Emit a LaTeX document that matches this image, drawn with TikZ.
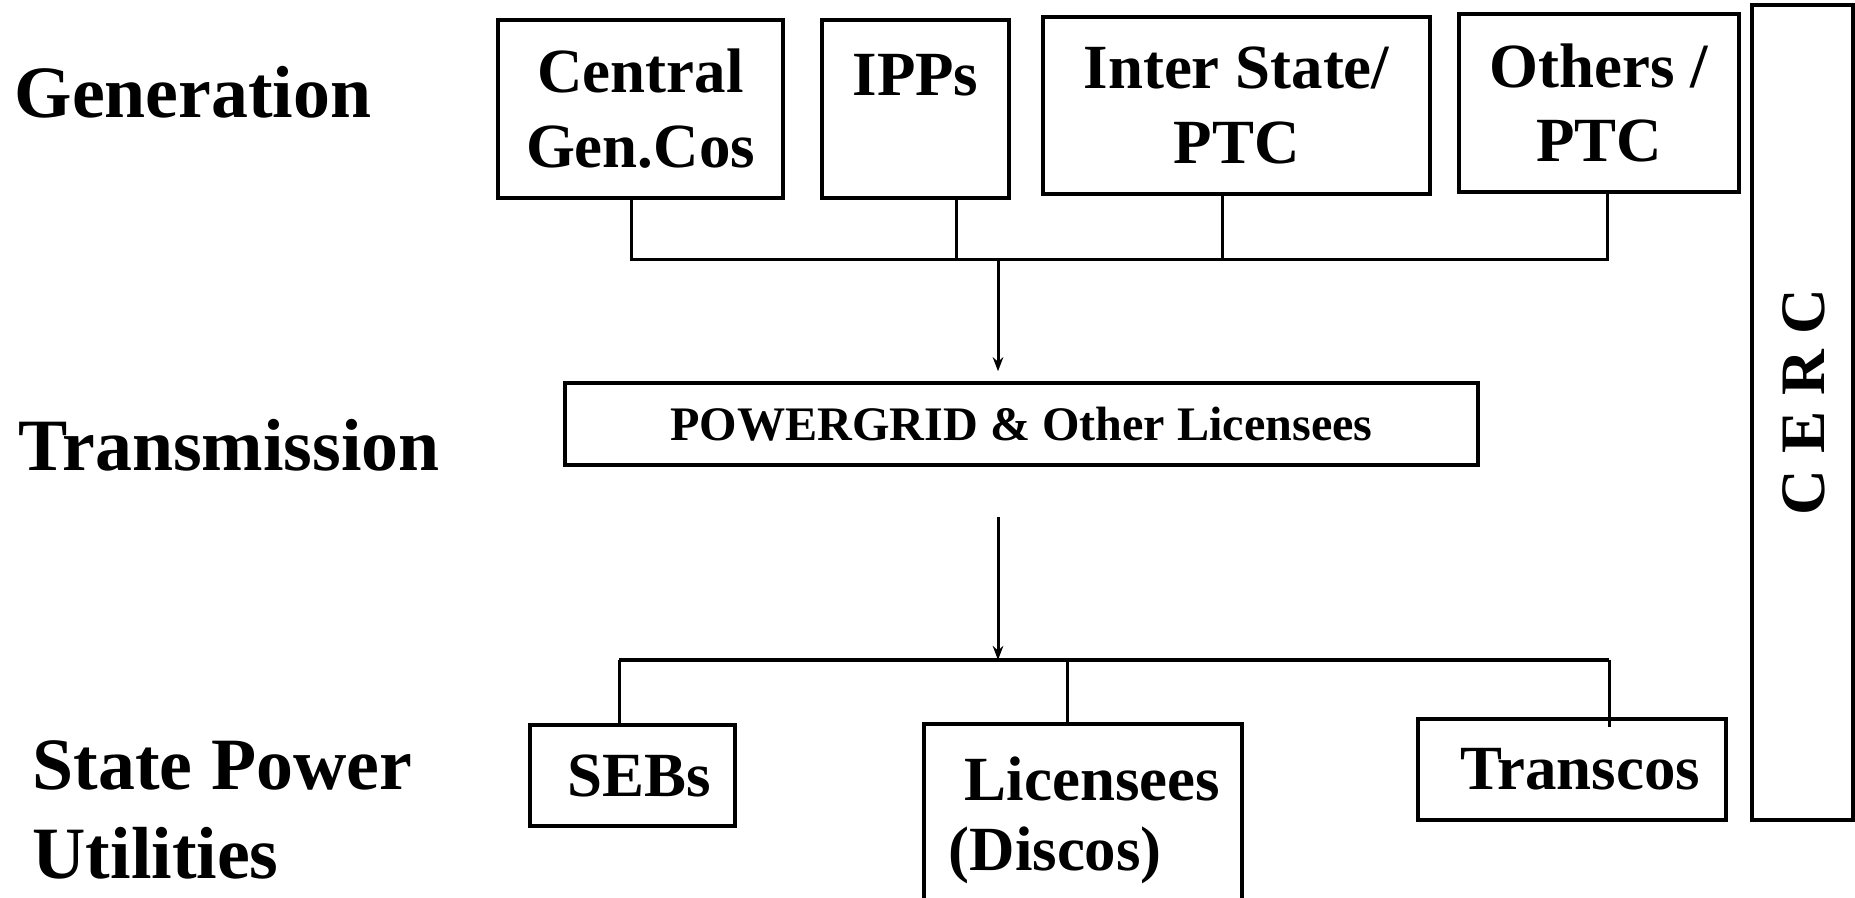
\documentclass[tikz,border=0pt]{standalone}
\usepackage{fontspec}
\setmainfont{Liberation Serif}
\usetikzlibrary{arrows.meta}
\newcommand\bxfont{\fontsize{17.9}{21.3}\selectfont\bfseries}
\newcommand\lblfont{\fontsize{21}{25}\selectfont\bfseries}
\newcommand\pgfontx{\fontsize{13.7}{16}\selectfont\bfseries}
\newcommand\cercfont{\fontsize{18}{20}\selectfont\bfseries}
\begin{document}
\begin{tikzpicture}[x=0.1mm,y=-0.1mm,
  box/.style={draw,line width=1pt,inner sep=0pt,align=center,font=\bxfont},
  lbl/.style={anchor=base west,inner sep=0pt,font=\lblfont},
  conn/.style={line width=0.85pt},
  busline/.style={line width=1.1pt},
  arr/.style={conn,-{Stealth[length=4pt,width=3pt]}}]
\fill[white] (0,0) rectangle (1855,898);
\useasboundingbox (0,0) rectangle (1855,898);

% left labels
\node[lbl] (gen) at (14,118) {Generation};
\node[lbl] (trans) at (18,471) {Transmission};
\node[lbl] (spu1) at (32,790) {State Power};
\node[lbl] (spu2) at (32,878) {Utilities};

% generation boxes
\node[box,minimum width=28.5mm,minimum height=17.8mm] (central) at (640.5,109) {\raisebox{-0.8mm}{Central}\\\raisebox{-0.8mm}{Gen.Cos}};
\node[box,minimum width=18.7mm,minimum height=17.8mm] (ipps) at (915.5,109) {\raisebox{-0.8mm}{IPPs}\\\phantom{Gen}};
\node[box,minimum width=38.7mm,minimum height=17.7mm] (inter) at (1236.5,105.5) {\raisebox{-0.8mm}{Inter State/}\\\raisebox{-0.8mm}{PTC}};
\node[box,minimum width=28mm,minimum height=17.8mm] (others) at (1599,103) {\raisebox{-0.6mm}{Others /}\\\raisebox{-0.6mm}{PTC}};

% CERC
\node[box,minimum width=10.1mm,minimum height=81.5mm] (cerc) at (1802.5,412.5) {};
\node[font=\cercfont,rotate=90,inner sep=0pt] (cerct) at (1804,402) {C E R C};

% transmission
\node[box,minimum width=91.3mm,minimum height=8.2mm,font=\pgfontx] (pg) at (1021.5,424) {POWERGRID \& Other Licensees};

% state utilities
\node[box,minimum width=20.5mm,minimum height=10.1mm,text width=20.5mm] (sebs) at (632.5,775.5) {\hspace*{1.3mm}SEBs};
\node[box,minimum width=30.8mm,minimum height=10.1mm,text width=30.8mm] (transcos) at (1572,769.5) {\hspace*{1.6mm}\raisebox{-0.5mm}{Transcos}};
\begin{scope}
\clip (0,0) rectangle (1855,898);
\node[box,minimum width=31.8mm,minimum height=20.6mm] (lic) at (1083,827) {};
\end{scope}
\node[lbl,font=\bxfont] (licA) at (964,801) {Licensees};
\node[lbl,font=\bxfont] (licB) at (948,870) {(Discos)};

% top bus
\coordinate (b1) at (631,260);
\coordinate (b2) at (956,260);
\coordinate (b3) at (1222,260);
\coordinate (b4) at (1607,260);
\coordinate (bm) at (998,260);
\draw[conn] (central.south -| b1) -- (b1) -- (b4) -- (others.south -| b4);
\draw[conn] (ipps.south -| b2) -- (b2);
\draw[conn] (inter.south -| b3) -- (b3);
\draw[arr,shorten >=1mm] (bm) -- (pg.north -| bm);

% bottom bus
\coordinate (a2) at (998,517);
\coordinate (c1) at (619,660);
\coordinate (c2) at (1067,660);
\coordinate (c3) at (1609,660);
\coordinate (cm) at (998,660);
\draw[arr] (a2) -- (cm);
\draw[busline] (c1) -- (c3);
\draw[conn] (c1) -- (sebs.north -| c1);
\draw[conn] (c2) -- (lic.north -| c2);
\draw[conn] (c3) -- ([yshift=-1mm]transcos.north -| c3);
\end{tikzpicture}
\end{document}
